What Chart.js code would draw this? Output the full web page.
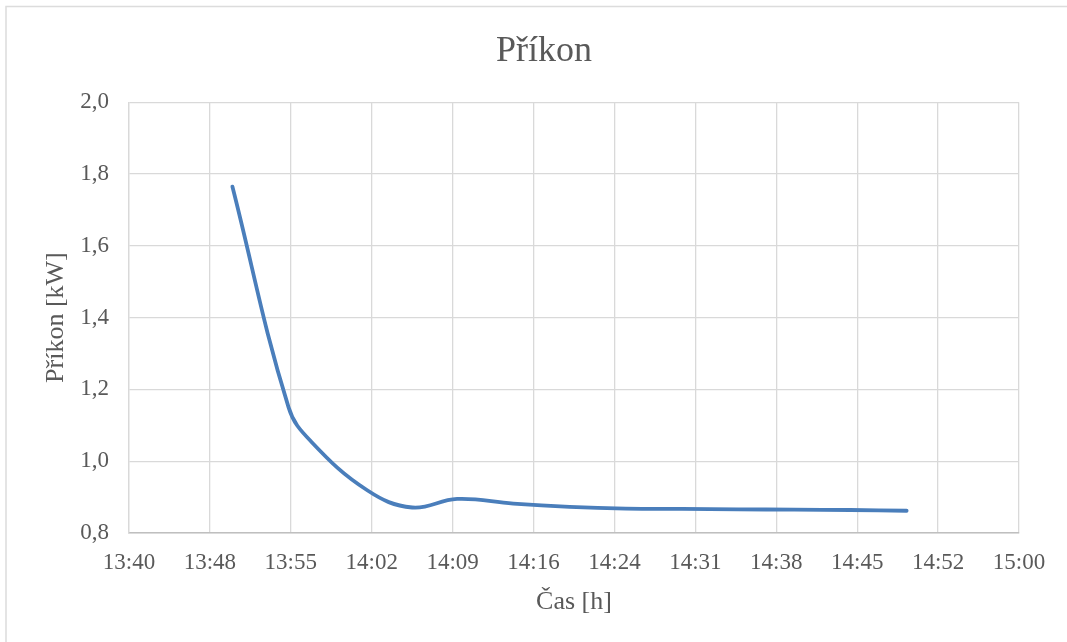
<!DOCTYPE html>
<html>
<head>
<meta charset="utf-8">
<script src="https://cdn.jsdelivr.net/npm/chart.js@4.4.0/dist/chart.umd.min.js"></script>
<style>
  html, body { margin: 0; padding: 0; background: #ffffff; }
  #wrap { width: 1067px; height: 642px; position: relative; }
</style>
</head>
<body>
<div id="wrap"><canvas id="c" width="1067" height="642"></canvas></div>
<script>
// ---- data ----
const times = ['13:50','13:55','13:57','14:02','14:06','14:10','14:15','14:20','14:25','14:30','14:35','14:40','14:45','14:50'];
const power = [1.765, 1.15, 1.055, 0.919, 0.871, 0.895, 0.882, 0.873, 0.868, 0.867, 0.866, 0.865, 0.864, 0.862];
const xTickLabels = ['13:40','13:48','13:55','14:02','14:09','14:16','14:24','14:31','14:38','14:45','14:52','15:00'];
const xTickDays = [0.570, 0.575, 0.580, 0.585, 0.590, 0.595, 0.600, 0.605, 0.610, 0.615, 0.620, 0.625];
const yTicks = [0.8, 1.0, 1.2, 1.4, 1.6, 1.8, 2.0];
const chartTitle = 'Příkon';
const xTitle = 'Čas [h]';
const yTitle = 'Příkon [kW]';

function toMin(t) { const p = t.split(':'); return (+p[0]) * 60 + (+p[1]); }
const xTickMin = xTickDays.map(d => d * 1440);
const points = times.map((t, i) => ({ x: toMin(t), y: power[i] }));

const textColor = '#595959';
const gridColor = '#d9d9d9';
const FONT = '"Liberation Serif", "Times New Roman", serif';

const borderPlugin = {
  id: 'outerBorder',
  beforeDraw(chart) {
    const ctx = chart.ctx;
    ctx.save();
    ctx.fillStyle = '#ffffff';
    ctx.fillRect(0, 0, chart.width, chart.height);
    ctx.strokeStyle = '#dcdcdc';
    ctx.lineWidth = 1.5;
    ctx.strokeRect(6, 6.5, 1200, 800);
    ctx.restore();
  }
};

new Chart(document.getElementById('c'), {
  type: 'line',
  data: {
    datasets: [{
      data: points,
      borderColor: '#4A7EBB',
      borderWidth: 3.8,
      pointRadius: 0,
      tension: 0.4,
      fill: false,
      borderCapStyle: 'round',
      borderJoinStyle: 'round'
    }]
  },
  options: {
    responsive: false,
    animation: false,
    devicePixelRatio: 1,
    layout: { padding: { left: 21, right: 0, top: 0, bottom: 0 } },
    plugins: {
      legend: { display: false },
      tooltip: { enabled: false },
      title: {
        display: true,
        text: chartTitle,
        color: textColor,
        font: { family: FONT, size: 36, weight: 'normal', lineHeight: 1.2 },
        padding: { top: 30, bottom: 29 }
      }
    },
    scales: {
      x: {
        type: 'linear',
        min: xTickMin[0],
        max: xTickMin[xTickMin.length - 1],
        afterBuildTicks(scale) { scale.ticks = xTickMin.map(v => ({ value: v })); },
        afterFit(scale) { scale.height = 109; },
        ticks: {
          autoSkip: false,
          maxRotation: 0,
          padding: 16,
          color: textColor,
          font: { family: FONT, size: 23 },
          callback(value, index) { return xTickLabels[index]; }
        },
        grid: { color: gridColor, lineWidth: 1.3, drawTicks: false },
        border: { display: true, color: '#bfbfbf', width: 1.5 },
        title: {
          display: true,
          text: xTitle,
          color: textColor,
          font: { family: FONT, size: 26, lineHeight: 1.2 },
          padding: { top: 0, bottom: 24 }
        }
      },
      y: {
        type: 'linear',
        min: yTicks[0],
        max: yTicks[yTicks.length - 1],
        afterBuildTicks(scale) { scale.ticks = yTicks.map(v => ({ value: v })); },
        afterFit(scale) { scale.width = 108; },
        ticks: {
          padding: 20,
          color: textColor,
          font: { family: FONT, size: 23 },
          callback(value) { return Number(value).toFixed(1).replace('.', ','); }
        },
        grid: { color: gridColor, lineWidth: 1.3, drawTicks: false },
        border: { display: true, color: gridColor, width: 1.3 },
        title: {
          display: true,
          text: yTitle,
          color: textColor,
          font: { family: FONT, size: 26, lineHeight: 1.2 },
          padding: { top: 20, bottom: 0 }
        }
      },
      y2: {
        type: 'linear',
        position: 'right',
        display: true,
        afterFit(scale) { scale.width = 48; },
        ticks: { display: false },
        grid: { display: false, drawTicks: false },
        border: { display: false }
      }
    }
  },
  plugins: [borderPlugin]
});
</script>
</body>
</html>
